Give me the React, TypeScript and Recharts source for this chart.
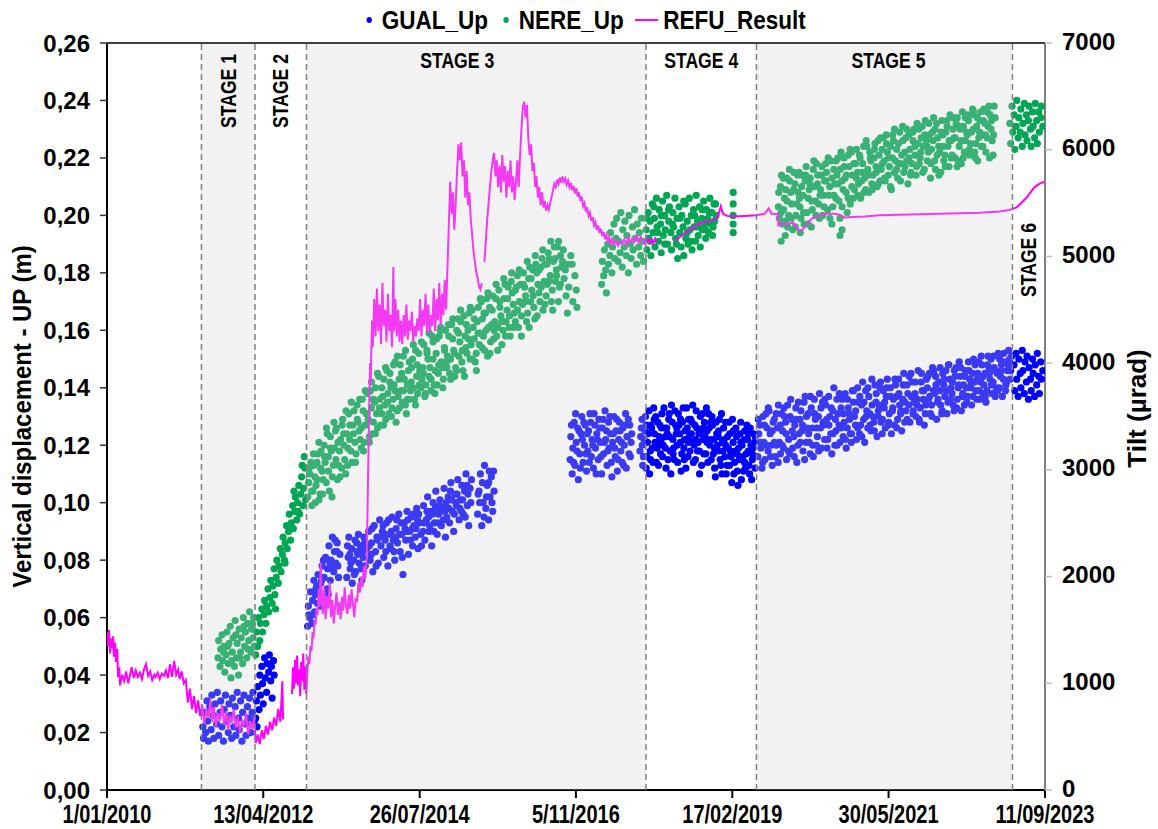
import React from 'react';
import { ComposedChart, Scatter, Line, XAxis, YAxis, ReferenceArea, ReferenceLine, Legend } from 'recharts';

const WIDE = "'Liberation Sans', Arial, sans-serif";

const xTickLabels = ['1/01/2010', '13/04/2012', '26/07/2014', '5/11/2016', '17/02/2019', '30/05/2021', '11/09/2023'];
const leftTicks = [0, 0.02, 0.04, 0.06, 0.08, 0.1, 0.12, 0.14, 0.16, 0.18, 0.2, 0.22, 0.24, 0.26];
const rightTicks = [0, 1000, 2000, 3000, 4000, 5000, 6000, 7000];

const stageNames = ['STAGE 1', 'STAGE 2', 'STAGE 3', 'STAGE 4', 'STAGE 5', 'STAGE 6'];
const stageBounds = [2011.379, 2012.16, 2012.912, 2017.867, 2019.48, 2023.217, 2023.69];
const stageShaded = [true, false, true, false, true, false];
const stageVertical = [true, true, false, false, false, true];

const seriesNames = ['GUAL_Up', 'NERE_Up', 'REFU_Result'];
const seriesColors = ['#0000ff', '#00a651', '#ff00ff'];

// GUAL_Up: [decimal year, vertical displacement (m)]
const gualUp: [number, number][] = [
  [2011.40,0.022],[2011.41,0.018],[2011.43,0.027],[2011.44,0.020],[2011.46,0.031],[2011.47,0.024],[2011.48,0.017],[2011.50,0.029],[2011.52,0.021],[2011.53,0.033],[2011.55,0.026],[2011.56,0.018],[2011.58,0.030],[2011.60,0.023],[2011.61,0.034],[2011.63,0.019],[2011.65,0.027],[2011.66,0.031],[2011.68,0.022],[2011.70,0.017],[2011.71,0.028],[2011.73,0.033],[2011.75,0.024],[2011.77,0.020],[2011.78,0.030],[2011.80,0.026],[2011.82,0.018],[2011.83,0.032],[2011.85,0.022],[2011.87,0.029],[2011.88,0.019],[2011.90,0.034],[2011.92,0.025],[2011.93,0.021],[2011.95,0.031],[2011.97,0.017],[2011.98,0.027],[2012.00,0.033],[2012.02,0.023],[2012.03,0.019],[2012.05,0.029],[2012.07,0.025],[2012.08,0.032],[2012.10,0.020],[2012.12,0.027],[2012.13,0.034],[2012.15,0.024],
  [2012.17,0.025],[2012.18,0.031],[2012.19,0.022],[2012.20,0.036],[2012.22,0.028],[2012.23,0.040],[2012.24,0.033],[2012.26,0.043],[2012.27,0.037],[2012.28,0.030],[2012.30,0.046],[2012.31,0.039],[2012.33,0.034],[2012.34,0.044],[2012.36,0.041],[2012.37,0.047],[2012.39,0.038],[2012.40,0.043],[2012.41,0.032],[2012.43,0.045],[2012.44,0.040],
  [2012.93,0.057],[2012.94,0.064],[2012.96,0.060],[2012.97,0.069],[2012.99,0.058],[2013.00,0.066],[2013.02,0.073],[2013.03,0.062],[2013.05,0.070],[2013.07,0.065],[2013.08,0.075],[2013.10,0.068],[2013.12,0.072],[2013.14,0.078],[2013.15,0.066],[2013.17,0.074],[2013.19,0.081],[2013.21,0.070],[2013.22,0.077],[2013.24,0.085],[2013.26,0.073],[2013.27,0.080],[2013.29,0.088],[2013.31,0.076],[2013.32,0.083],[2013.34,0.079],[2013.36,0.086],[2013.38,0.074],[2013.40,0.082],
  [2013.50,0.074],[2013.52,0.081],[2013.53,0.088],[2013.55,0.077],[2013.57,0.084],[2013.58,0.072],[2013.60,0.080],[2013.62,0.087],[2013.63,0.076],[2013.65,0.083],[2013.67,0.089],[2013.68,0.079],[2013.70,0.085],[2013.72,0.073],[2013.74,0.081],[2013.75,0.088],[2013.77,0.078],[2013.79,0.084],
  [2013.82,0.090],[2013.84,0.080],[2013.86,0.086],[2013.88,0.076],[2013.90,0.092],[2013.92,0.083],[2013.94,0.088],[2013.96,0.079],[2013.98,0.094],[2014.00,0.085],[2014.02,0.090],[2014.04,0.081],[2014.06,0.087],[2014.08,0.093],[2014.10,0.078],[2014.12,0.089],[2014.14,0.084],[2014.16,0.095],[2014.18,0.087],[2014.20,0.080],[2014.22,0.091],[2014.24,0.086],[2014.26,0.096],[2014.28,0.083],[2014.30,0.089],[2014.32,0.075],[2014.34,0.093],[2014.36,0.087],[2014.38,0.097],[2014.40,0.082],[2014.42,0.090],[2014.44,0.095],[2014.46,0.085],[2014.48,0.092],[2014.50,0.088],[2014.52,0.098],[2014.54,0.084],[2014.56,0.093],[2014.58,0.089],
  [2014.62,0.099],[2014.64,0.087],[2014.66,0.094],[2014.68,0.102],[2014.70,0.090],[2014.72,0.097],[2014.74,0.085],[2014.76,0.100],[2014.78,0.093],[2014.80,0.104],[2014.82,0.089],[2014.84,0.096],[2014.86,0.101],[2014.88,0.092],[2014.90,0.098],[2014.92,0.105],[2014.94,0.088],[2014.96,0.095],[2014.98,0.102],[2015.00,0.093],[2015.02,0.107],[2015.04,0.097],[2015.06,0.090],[2015.08,0.103],[2015.10,0.099],[2015.12,0.108],[2015.14,0.094],[2015.16,0.101],[2015.18,0.106],[2015.20,0.096],[2015.22,0.104],[2015.24,0.110],[2015.26,0.099],[2015.28,0.092],[2015.30,0.105],[2015.32,0.108],
  [2015.41,0.096],[2015.43,0.104],[2015.45,0.110],[2015.47,0.092],[2015.49,0.100],[2015.51,0.113],[2015.53,0.098],[2015.55,0.106],[2015.57,0.094],[2015.59,0.102],[2015.61,0.109],[2015.63,0.097],[2015.65,0.104],
  [2013.01,0.061],[2013.06,0.071],[2013.11,0.064],[2013.16,0.080],[2013.23,0.068],[2013.28,0.077],[2013.33,0.087],[2013.37,0.078],[2013.51,0.085],[2013.56,0.079],[2013.61,0.075],[2013.66,0.082],[2013.71,0.077],[2013.76,0.086],[2013.83,0.085],[2013.87,0.091],[2013.93,0.078],[2013.97,0.088],[2014.03,0.092],[2014.07,0.083],[2014.11,0.094],[2014.15,0.090],[2014.19,0.083],[2014.23,0.094],[2014.27,0.089],[2014.31,0.081],[2014.35,0.091],[2014.39,0.094],[2014.43,0.087],[2014.47,0.096],[2014.51,0.091],[2014.55,0.096],[2014.59,0.085],[2014.63,0.093],[2014.67,0.097],[2014.71,0.092],[2014.75,0.096],[2014.79,0.098],[2014.83,0.093],[2014.87,0.097],[2014.91,0.094],[2014.95,0.100],[2014.99,0.098],[2015.03,0.101],[2015.07,0.096],[2015.11,0.103],[2015.15,0.098],[2015.19,0.101],[2015.23,0.095],[2015.27,0.103],[2015.31,0.100],[2015.44,0.100],[2015.48,0.107],[2015.54,0.102],[2015.58,0.111],[2015.62,0.100],
  [2012.947,0.061],[2013.043,0.068],[2013.132,0.073],[2013.254,0.079],[2013.357,0.083],[2013.543,0.082],[2013.644,0.086],[2013.732,0.083],[2013.857,0.082],[2013.947,0.087],[2014.053,0.089],[2014.131,0.085],[2014.213,0.088],[2014.291,0.093],[2014.372,0.090],[2014.453,0.091],[2014.533,0.094],[2014.611,0.090],[2014.694,0.095],[2014.771,0.090],[2014.853,0.099],[2014.932,0.097],[2015.013,0.104],[2015.093,0.100],[2015.173,0.097],[2015.253,0.106],[2015.418,0.103],[2015.502,0.095],[2015.571,0.107],[2015.643,0.111],
  [2016.76,0.115],[2016.77,0.123],[2016.79,0.110],[2016.80,0.119],[2016.82,0.128],[2016.83,0.113],[2016.85,0.121],[2016.87,0.126],[2016.88,0.108],[2016.90,0.117],[2016.92,0.124],[2016.93,0.130],[2016.95,0.114],[2016.97,0.120],[2016.98,0.127],[2017.00,0.111],[2017.02,0.118],[2017.03,0.125],[2017.05,0.131],[2017.07,0.116],[2017.08,0.122],[2017.10,0.112],[2017.12,0.127],[2017.13,0.119],[2017.15,0.124],[2017.17,0.115],[2017.18,0.129],[2017.20,0.121],[2017.22,0.110],[2017.23,0.126],[2017.25,0.117],[2017.27,0.132],[2017.28,0.122],[2017.30,0.113],[2017.32,0.128],[2017.33,0.119],[2017.35,0.124],[2017.37,0.109],[2017.38,0.121],[2017.40,0.130],[2017.42,0.116],[2017.43,0.125],[2017.45,0.111],[2017.47,0.122],[2017.48,0.128],[2017.50,0.118],[2017.52,0.114],[2017.53,0.126],[2017.55,0.120],[2017.57,0.131],[2017.58,0.112],[2017.60,0.123],[2017.62,0.117],[2017.63,0.127],[2017.65,0.121],
  [2016.78,0.127],[2016.81,0.114],[2016.84,0.131],[2016.86,0.118],[2016.89,0.125],[2016.91,0.112],[2016.94,0.122],[2016.96,0.128],[2016.99,0.117],[2017.01,0.124],[2017.04,0.114],[2017.06,0.128],[2017.09,0.120],[2017.11,0.131],[2017.14,0.110],[2017.16,0.122],[2017.19,0.126],[2017.21,0.116],[2017.24,0.129],[2017.26,0.121],[2017.29,0.125],[2017.31,0.118],[2017.34,0.130],[2017.36,0.114],[2017.39,0.124],[2017.41,0.119],[2017.44,0.129],[2017.46,0.115],[2017.49,0.125],[2017.51,0.121],[2017.54,0.113],[2017.56,0.127],[2017.59,0.123],[2017.61,0.129],[2017.64,0.116],[2017.66,0.124],
  [2017.78,0.118],[2017.80,0.126],[2017.82,0.113],[2017.84,0.122],[2017.86,0.130],[2017.88,0.116],[2017.90,0.124],[2017.92,0.110],[2017.94,0.127],[2017.96,0.119],[2017.98,0.133],[2018.00,0.121],[2018.02,0.114],[2018.04,0.128],[2018.06,0.123],[2018.08,0.117],[2018.10,0.131],[2018.12,0.120],[2018.14,0.126],[2018.16,0.112],[2018.18,0.124],[2018.20,0.129],[2018.22,0.118],[2018.24,0.134],[2018.26,0.122],[2018.28,0.115],[2018.30,0.127],[2018.32,0.120],[2018.34,0.131],[2018.36,0.124],[2018.38,0.111],[2018.40,0.128],[2018.42,0.119],[2018.44,0.125],[2018.46,0.133],[2018.48,0.116],[2018.50,0.123],[2018.52,0.129],[2018.54,0.121],[2018.56,0.114],[2018.58,0.127],[2018.60,0.132],[2018.62,0.118],[2018.64,0.124],[2018.66,0.130],[2018.68,0.113],[2018.70,0.122],[2018.72,0.128],[2018.74,0.117],[2018.76,0.125],[2018.78,0.131],[2018.80,0.120],[2018.82,0.115],[2018.84,0.127],[2018.86,0.122],[2018.88,0.109],[2018.90,0.124],[2018.92,0.118],[2018.94,0.129],[2018.96,0.113],[2018.98,0.121],[2019.00,0.126],[2019.02,0.116],[2019.04,0.110],[2019.06,0.123],[2019.08,0.128],[2019.10,0.118],[2019.12,0.107],[2019.14,0.121],[2019.16,0.114],[2019.18,0.126],[2019.20,0.111],[2019.22,0.119],[2019.24,0.124],[2019.26,0.108],[2019.28,0.116],[2019.30,0.122],[2019.32,0.112],[2019.34,0.127],[2019.36,0.118],[2019.38,0.110],[2019.40,0.120],[2019.42,0.115],[2019.44,0.124],[2019.46,0.112],
  [2017.79,0.123],[2017.81,0.129],[2017.83,0.116],[2017.85,0.125],[2017.87,0.112],[2017.89,0.121],[2017.91,0.132],[2017.93,0.118],[2017.95,0.126],[2017.97,0.114],[2017.99,0.124],[2018.01,0.130],[2018.03,0.119],[2018.05,0.113],[2018.07,0.127],[2018.09,0.122],[2018.11,0.116],[2018.13,0.133],[2018.15,0.119],[2018.17,0.126],[2018.19,0.115],[2018.21,0.123],[2018.23,0.110],[2018.25,0.128],[2018.27,0.119],[2018.29,0.132],[2018.31,0.124],[2018.33,0.114],[2018.35,0.127],[2018.37,0.121],[2018.39,0.117],[2018.41,0.133],[2018.43,0.122],[2018.45,0.112],[2018.47,0.126],[2018.49,0.129],[2018.51,0.118],[2018.53,0.124],[2018.55,0.134],[2018.57,0.120],[2018.59,0.115],[2018.61,0.126],[2018.63,0.121],[2018.65,0.110],[2018.67,0.125],[2018.69,0.131],[2018.71,0.117],[2018.73,0.123],[2018.75,0.133],[2018.77,0.114],[2018.79,0.126],[2018.81,0.122],[2018.83,0.130],[2018.85,0.117],[2018.87,0.112],[2018.89,0.128],[2018.91,0.120],[2018.93,0.125],[2018.95,0.115],[2018.97,0.131],[2018.99,0.118],[2019.01,0.122],[2019.03,0.128],[2019.05,0.113],[2019.07,0.119],[2019.09,0.124],[2019.11,0.116],[2019.13,0.129],[2019.15,0.110],[2019.17,0.118],[2019.19,0.123],[2019.21,0.106],[2019.23,0.115],[2019.25,0.128],[2019.27,0.120],[2019.29,0.111],[2019.31,0.125],[2019.33,0.117],[2019.35,0.122],[2019.37,0.113],[2019.39,0.126],[2019.41,0.108],[2019.43,0.119],[2019.45,0.121],[2019.47,0.116],
  [2017.813,0.120],[2017.871,0.127],[2017.934,0.115],[2017.988,0.129],[2018.047,0.120],[2018.093,0.126],[2018.152,0.123],[2018.207,0.131],[2018.263,0.117],[2018.318,0.126],[2018.372,0.129],[2018.427,0.115],[2018.483,0.121],[2018.538,0.128],[2018.594,0.122],[2018.648,0.118],[2018.703,0.126],[2018.758,0.121],[2018.812,0.128],[2018.867,0.119],[2018.921,0.123],[2018.977,0.110],[2019.033,0.120],[2019.088,0.113],[2019.143,0.125],[2019.198,0.117],[2019.252,0.121],[2019.307,0.114],[2019.362,0.124],[2019.418,0.117],[2019.463,0.123],
  [2019.50,0.116],[2019.53,0.127],[2019.56,0.112],[2019.59,0.121],[2019.62,0.131],[2019.65,0.118],[2019.68,0.124],[2019.71,0.113],[2019.74,0.129],[2019.77,0.120],[2019.80,0.134],[2019.83,0.117],[2019.86,0.125],[2019.89,0.130],[2019.92,0.115],[2019.95,0.122],[2019.98,0.136],[2020.01,0.119],[2020.04,0.127],[2020.07,0.114],[2020.10,0.124],[2020.13,0.132],[2020.16,0.118],[2020.19,0.137],[2020.22,0.126],[2020.25,0.121],[2020.28,0.133],[2020.31,0.116],[2020.34,0.129],[2020.37,0.123],[2020.40,0.138],[2020.43,0.119],[2020.46,0.127],[2020.49,0.134],[2020.52,0.122],[2020.55,0.130],[2020.58,0.117],[2020.61,0.140],[2020.64,0.125],[2020.67,0.131],[2020.70,0.121],[2020.73,0.136],[2020.76,0.128],[2020.79,0.119],[2020.82,0.133],[2020.85,0.124],[2020.88,0.139],[2020.91,0.130],[2020.94,0.122],[2020.97,0.135],[2021.00,0.127],[2021.03,0.142],[2021.06,0.121],[2021.09,0.132],[2021.12,0.137],[2021.15,0.125],[2021.18,0.130],[2021.21,0.141],[2021.24,0.123],[2021.27,0.134],[2021.30,0.128],[2021.33,0.139],[2021.36,0.126],[2021.39,0.143],[2021.42,0.131],[2021.45,0.124],[2021.48,0.136],[2021.51,0.141],[2021.54,0.129],[2021.57,0.134],[2021.60,0.125],[2021.63,0.145],[2021.66,0.132],[2021.69,0.138],[2021.72,0.128],[2021.75,0.142],[2021.78,0.135],[2021.81,0.130],[2021.84,0.146],[2021.87,0.133],[2021.90,0.139],[2021.93,0.127],[2021.96,0.143],[2021.99,0.136],[2022.02,0.131],[2022.05,0.147],[2022.08,0.138],[2022.11,0.129],[2022.14,0.142],[2022.17,0.134],[2022.20,0.145],[2022.23,0.137],[2022.26,0.131],[2022.29,0.148],[2022.32,0.140],[2022.35,0.134],[2022.38,0.144],[2022.41,0.136],[2022.44,0.149],[2022.47,0.132],[2022.50,0.141],[2022.53,0.146],[2022.56,0.137],[2022.59,0.143],[2022.62,0.134],[2022.65,0.150],[2022.68,0.139],[2022.71,0.145],[2022.74,0.136],[2022.77,0.148],[2022.80,0.141],[2022.83,0.135],[2022.86,0.151],[2022.89,0.143],[2022.92,0.138],[2022.95,0.147],[2022.98,0.140],[2023.01,0.152],[2023.04,0.144],[2023.07,0.137],[2023.10,0.149],[2023.13,0.142],[2023.16,0.153],[2023.19,0.146],
  [2019.515,0.124],[2019.545,0.119],[2019.575,0.130],[2019.605,0.115],[2019.635,0.126],[2019.665,0.132],[2019.695,0.120],[2019.725,0.128],[2019.755,0.116],[2019.785,0.126],[2019.815,0.121],[2019.845,0.131],[2019.875,0.119],[2019.905,0.128],[2019.935,0.134],[2019.965,0.117],[2019.995,0.129],[2020.025,0.123],[2020.055,0.133],[2020.085,0.120],[2020.115,0.129],[2020.145,0.125],[2020.175,0.135],[2020.205,0.121],[2020.235,0.131],[2020.265,0.117],[2020.295,0.126],[2020.325,0.136],[2020.355,0.120],[2020.385,0.130],[2020.415,0.126],[2020.445,0.135],[2020.475,0.122],[2020.505,0.129],[2020.535,0.137],[2020.565,0.124],[2020.595,0.132],[2020.625,0.120],[2020.655,0.136],[2020.685,0.127],[2020.715,0.133],[2020.745,0.123],[2020.775,0.138],[2020.805,0.126],[2020.835,0.131],[2020.865,0.121],[2020.895,0.135],[2020.925,0.127],[2020.955,0.140],[2020.985,0.124],[2021.015,0.134],[2021.045,0.129],[2021.075,0.139],[2021.105,0.126],[2021.135,0.131],[2021.165,0.143],[2021.195,0.128],[2021.225,0.135],[2021.255,0.130],[2021.285,0.140],[2021.315,0.124],[2021.345,0.133],[2021.375,0.137],[2021.405,0.127],[2021.435,0.140],[2021.465,0.132],[2021.495,0.127],[2021.525,0.137],[2021.555,0.143],[2021.585,0.131],[2021.615,0.136],[2021.645,0.128],[2021.675,0.141],[2021.705,0.134],[2021.735,0.145],[2021.765,0.131],[2021.795,0.138],[2021.825,0.134],[2021.855,0.129],[2021.885,0.142],[2021.915,0.136],[2021.945,0.131],[2021.975,0.140],[2022.005,0.145],[2022.035,0.134],[2022.065,0.139],[2022.095,0.144],[2022.125,0.135],[2022.155,0.139],[2022.185,0.131],[2022.215,0.141],[2022.245,0.146],[2022.275,0.135],[2022.305,0.143],[2022.335,0.138],[2022.365,0.132],[2022.395,0.147],[2022.425,0.140],[2022.455,0.144],[2022.485,0.137],[2022.515,0.134],[2022.545,0.140],[2022.575,0.149],[2022.605,0.140],[2022.635,0.145],[2022.665,0.142],[2022.695,0.136],[2022.725,0.149],[2022.755,0.142],[2022.785,0.138],[2022.815,0.145],[2022.845,0.139],[2022.875,0.147],[2022.905,0.150],[2022.935,0.142],[2022.965,0.137],[2022.995,0.145],[2023.025,0.140],[2023.055,0.148],[2023.085,0.143],[2023.115,0.139],[2023.145,0.146],[2023.175,0.150],
  [2019.508,0.129],[2019.538,0.121],[2019.571,0.114],[2019.597,0.127],[2019.629,0.120],[2019.653,0.133],[2019.687,0.116],[2019.711,0.125],[2019.742,0.121],[2019.768,0.131],[2019.797,0.114],[2019.829,0.127],[2019.858,0.120],[2019.881,0.133],[2019.913,0.124],[2019.947,0.118],[2019.972,0.130],[2020.003,0.125],[2020.031,0.116],[2020.064,0.129],[2020.092,0.135],[2020.122,0.121],[2020.151,0.127],[2020.183,0.115],[2020.211,0.130],[2020.242,0.124],[2020.268,0.137],[2020.301,0.120],[2020.329,0.131],[2020.361,0.126],[2020.388,0.118],[2020.421,0.133],[2020.452,0.128],[2020.478,0.136],[2020.511,0.119],[2020.538,0.127],[2020.571,0.133],[2020.598,0.124],[2020.632,0.129],[2020.658,0.120],[2020.689,0.138],[2020.718,0.126],[2020.749,0.131],[2020.778,0.122],[2020.809,0.136],[2020.839,0.129],[2020.868,0.124],[2020.898,0.139],[2020.929,0.132],[2020.958,0.126],[2020.989,0.137],[2021.018,0.123],[2021.049,0.135],[2021.079,0.130],[2021.108,0.140],[2021.139,0.127],[2021.168,0.134],[2021.201,0.125],[2021.229,0.138],[2021.259,0.132],[2021.291,0.142],[2021.319,0.129],[2021.351,0.135],[2021.379,0.140],[2021.412,0.128],[2021.438,0.137],[2021.469,0.133],[2021.501,0.143],[2021.529,0.126],[2021.561,0.138],[2021.589,0.132],[2021.621,0.141],[2021.648,0.135],[2021.681,0.129],[2021.709,0.144],[2021.741,0.137],[2021.769,0.132],[2021.801,0.142],[2021.829,0.136],[2021.861,0.128],[2021.889,0.145],[2021.921,0.139],[2021.949,0.134],[2021.981,0.144],[2022.009,0.137],[2022.041,0.130],[2022.071,0.146],[2022.101,0.141],[2022.131,0.136],[2022.161,0.147],[2022.191,0.132],[2022.219,0.143],[2022.251,0.139],[2022.281,0.148],[2022.311,0.136],[2022.341,0.142],[2022.369,0.146],[2022.401,0.133],[2022.431,0.141],[2022.461,0.147],[2022.491,0.138],[2022.521,0.144],[2022.551,0.135],[2022.581,0.146],[2022.611,0.141],[2022.641,0.137],[2022.671,0.148],[2022.701,0.143],[2022.731,0.139],[2022.761,0.151],[2022.791,0.144],[2022.821,0.137],[2022.851,0.148],[2022.881,0.145],[2022.911,0.141],[2022.941,0.151],[2022.971,0.146],[2023.001,0.139],[2023.031,0.150],[2023.061,0.146],[2023.091,0.152],[2023.121,0.141],[2023.151,0.148],[2023.181,0.143],[2023.205,0.151],
  [2023.24,0.148],[2023.25,0.139],[2023.27,0.152],[2023.28,0.143],[2023.30,0.137],[2023.31,0.150],[2023.33,0.145],[2023.34,0.140],[2023.36,0.153],[2023.37,0.146],[2023.39,0.138],[2023.40,0.149],[2023.42,0.142],[2023.43,0.151],[2023.45,0.136],[2023.46,0.147],[2023.48,0.143],[2023.49,0.139],[2023.51,0.150],[2023.52,0.145],[2023.54,0.137],[2023.55,0.148],[2023.57,0.141],[2023.58,0.152],[2023.60,0.144],[2023.61,0.138],[2023.63,0.149],[2023.64,0.143],[2023.66,0.146],
];

// NERE_Up: [decimal year, vertical displacement (m)]
const nereUp: [number, number][] = [
  [2011.62,0.046],[2011.63,0.052],[2011.65,0.043],[2011.66,0.049],[2011.68,0.054],[2011.69,0.045],[2011.71,0.050],[2011.72,0.041],[2011.74,0.047],[2011.75,0.055],[2011.77,0.044],[2011.78,0.051],[2011.80,0.057],[2011.81,0.039],[2011.83,0.048],[2011.84,0.053],[2011.86,0.043],[2011.87,0.059],[2011.89,0.046],[2011.90,0.051],[2011.92,0.040],[2011.93,0.056],[2011.95,0.048],[2011.96,0.053],[2011.98,0.044],[2011.99,0.060],[2012.01,0.050],[2012.02,0.055],[2012.04,0.046],[2012.05,0.058],[2012.07,0.052],[2012.08,0.062],[2012.10,0.048],[2012.11,0.056],[2012.13,0.053],[2012.14,0.060],[2012.15,0.050],
  [2011.70,0.048],[2011.76,0.050],[2011.82,0.045],[2011.88,0.054],[2011.94,0.046],[2012.00,0.057],[2012.06,0.049],[2012.12,0.058],
  [2012.17,0.047],[2012.18,0.055],[2012.20,0.050],[2012.21,0.060],[2012.23,0.052],[2012.24,0.058],[2012.26,0.063],[2012.27,0.055],[2012.29,0.061],[2012.30,0.066],[2012.32,0.058],[2012.33,0.064],[2012.35,0.070],[2012.36,0.062],[2012.38,0.067],[2012.39,0.073],[2012.41,0.065],[2012.42,0.071],[2012.44,0.077],[2012.45,0.068],[2012.47,0.074],[2012.48,0.080],[2012.50,0.072],[2012.51,0.078],[2012.53,0.084],[2012.54,0.076],[2012.56,0.082],[2012.57,0.088],[2012.59,0.080],[2012.60,0.086],[2012.62,0.092],[2012.63,0.084],[2012.65,0.090],[2012.66,0.096],[2012.68,0.087],[2012.69,0.093],[2012.71,0.099],[2012.72,0.091],[2012.74,0.097],[2012.75,0.102],[2012.77,0.094],[2012.78,0.100],[2012.80,0.106],[2012.81,0.096],[2012.83,0.103],[2012.84,0.109],[2012.86,0.099],[2012.87,0.105],[2012.89,0.112],[2012.90,0.101],
  [2012.73,0.104],[2012.79,0.097],[2012.85,0.113],[2012.88,0.116],[2012.60,0.079],[2012.46,0.063],
  [2012.93,0.102],[2012.96,0.110],[2012.99,0.099],[2013.02,0.113],[2013.05,0.106],[2013.08,0.117],[2013.11,0.103],[2013.14,0.111],[2013.17,0.120],[2013.20,0.107],[2013.23,0.116],[2013.26,0.123],[2013.29,0.109],[2013.32,0.119],[2013.35,0.126],[2013.38,0.113],[2013.41,0.122],[2013.44,0.129],[2013.47,0.115],[2013.50,0.124],[2013.53,0.131],[2013.56,0.118],[2013.59,0.127],[2013.62,0.121],[2013.65,0.134],[2013.68,0.125],[2013.71,0.119],[2013.74,0.132],[2013.77,0.127],[2013.80,0.138],[2013.83,0.123],[2013.86,0.133],[2013.89,0.128],[2013.92,0.140],[2013.95,0.126],[2013.98,0.136],[2014.01,0.131],[2014.04,0.143],[2014.07,0.129],[2014.10,0.138],[2014.13,0.145],[2014.16,0.133],[2014.19,0.141],[2014.22,0.128],[2014.25,0.137],[2014.28,0.148],[2014.31,0.135],[2014.34,0.143],[2014.37,0.131],[2014.40,0.146],[2014.43,0.139],[2014.46,0.150],[2014.49,0.136],[2014.52,0.144],[2014.55,0.152],[2014.58,0.140],[2014.61,0.147],[2014.64,0.137],[2014.67,0.153],[2014.70,0.144],[2014.73,0.139],[2014.76,0.156],[2014.79,0.146],[2014.82,0.141],[2014.85,0.158],[2014.88,0.149],[2014.91,0.143],[2014.94,0.160],[2014.97,0.151],[2015.00,0.145],[2015.03,0.162],[2015.06,0.153],[2015.09,0.147],[2015.12,0.164],[2015.15,0.156],[2015.18,0.149],[2015.21,0.165],[2015.24,0.154],[2015.27,0.160],[2015.30,0.150],[2015.33,0.167],[2015.36,0.157],[2015.39,0.152],[2015.42,0.168],[2015.45,0.159],[2015.48,0.164],[2015.51,0.153],[2015.54,0.171],[2015.57,0.161],[2015.60,0.156],[2015.63,0.172],[2015.66,0.163],[2015.69,0.158],[2015.72,0.174],[2015.75,0.165],[2015.78,0.160],[2015.81,0.176],[2015.84,0.167],[2015.87,0.161],[2015.90,0.177],[2015.93,0.169],[2015.96,0.163],[2015.99,0.179],[2016.02,0.170],[2016.05,0.165],[2016.08,0.180],[2016.11,0.172],[2016.14,0.166],[2016.17,0.182],[2016.20,0.174],[2016.23,0.168],[2016.26,0.183],[2016.29,0.176],[2016.32,0.170],[2016.35,0.185],[2016.38,0.177],[2016.41,0.172],[2016.44,0.187],[2016.47,0.179],[2016.50,0.174],[2016.53,0.189],[2016.56,0.181],[2016.59,0.170],[2016.62,0.186],
  [2012.945,0.107],[2012.975,0.114],[2013.005,0.104],[2013.035,0.109],[2013.065,0.114],[2013.095,0.101],[2013.125,0.118],[2013.155,0.108],[2013.185,0.114],[2013.215,0.124],[2013.245,0.104],[2013.275,0.118],[2013.305,0.113],[2013.335,0.125],[2013.365,0.108],[2013.395,0.118],[2013.425,0.112],[2013.455,0.124],[2013.485,0.110],[2013.515,0.119],[2013.545,0.127],[2013.575,0.114],[2013.605,0.132],[2013.635,0.117],[2013.665,0.128],[2013.695,0.122],[2013.725,0.136],[2013.755,0.121],[2013.785,0.131],[2013.815,0.129],[2013.845,0.139],[2013.875,0.124],[2013.905,0.135],[2013.935,0.131],[2013.965,0.144],[2013.995,0.127],[2014.025,0.137],[2014.055,0.134],[2014.085,0.146],[2014.115,0.131],[2014.145,0.140],[2014.175,0.136],[2014.205,0.149],[2014.235,0.132],[2014.265,0.143],[2014.295,0.139],[2014.325,0.151],[2014.355,0.134],[2014.385,0.141],[2014.415,0.136],[2014.445,0.147],[2014.475,0.140],[2014.505,0.153],[2014.535,0.138],[2014.565,0.146],[2014.595,0.143],[2014.625,0.155],[2014.655,0.141],[2014.685,0.150],[2014.715,0.147],[2014.745,0.158],[2014.775,0.141],[2014.805,0.152],[2014.835,0.145],[2014.865,0.160],[2014.895,0.147],[2014.925,0.154],[2014.955,0.149],[2014.985,0.162],[2015.015,0.150],[2015.045,0.157],[2015.075,0.144],[2015.105,0.160],[2015.135,0.151],[2015.165,0.163],[2015.195,0.146],[2015.225,0.158],[2015.255,0.152],[2015.285,0.166],[2015.315,0.155],[2015.345,0.161],[2015.375,0.149],[2015.405,0.163],[2015.435,0.155],[2015.465,0.170],[2015.495,0.158],[2015.525,0.166],[2015.555,0.151],[2015.585,0.168],[2015.615,0.162],[2015.645,0.157],[2015.675,0.171],[2015.705,0.161],[2015.735,0.168],[2015.765,0.155],[2015.795,0.171],[2015.825,0.163],[2015.855,0.175],[2015.885,0.158],[2015.915,0.173],[2015.945,0.166],[2015.975,0.175],[2016.005,0.161],[2016.035,0.176],[2016.065,0.169],[2016.095,0.175],[2016.125,0.163],[2016.155,0.178],[2016.185,0.170],[2016.215,0.181],[2016.245,0.164],[2016.275,0.180],[2016.305,0.173],[2016.335,0.182],[2016.365,0.167],[2016.395,0.183],[2016.425,0.176],[2016.455,0.185],[2016.485,0.170],[2016.515,0.184],[2016.545,0.177],[2016.575,0.189],[2016.605,0.175],[2016.635,0.182],
  [2012.952,0.112],[2012.987,0.104],[2013.013,0.117],[2013.041,0.100],[2013.068,0.108],[2013.093,0.121],[2013.118,0.112],[2013.147,0.103],[2013.176,0.116],[2013.203,0.126],[2013.231,0.111],[2013.262,0.119],[2013.284,0.102],[2013.313,0.128],[2013.342,0.115],[2013.371,0.121],[2013.402,0.109],[2013.433,0.127],[2013.458,0.120],[2013.489,0.132],[2013.512,0.113],[2013.541,0.122],[2013.566,0.135],[2013.598,0.124],[2013.627,0.114],[2013.654,0.129],[2013.688,0.136],[2013.712,0.126],[2013.744,0.118],[2013.771,0.139],[2013.798,0.131],[2013.829,0.121],[2013.861,0.142],[2013.888,0.136],[2013.917,0.124],[2013.949,0.145],[2013.978,0.133],[2014.011,0.140],[2014.038,0.127],[2014.066,0.147],[2014.094,0.135],[2014.127,0.142],[2014.151,0.130],[2014.183,0.148],[2014.209,0.139],[2014.238,0.151],[2014.267,0.133],[2014.301,0.145],[2014.327,0.139],[2014.358,0.153],[2014.386,0.136],[2014.413,0.149],[2014.442,0.142],[2014.471,0.155],[2014.503,0.134],[2014.528,0.148],[2014.561,0.141],[2014.589,0.156],[2014.617,0.145],[2014.648,0.138],[2014.672,0.152],[2014.703,0.159],[2014.729,0.143],[2014.758,0.150],[2014.787,0.138],[2014.812,0.157],[2014.843,0.148],[2014.871,0.161],[2014.902,0.140],[2014.928,0.153],[2014.961,0.147],[2014.989,0.158],[2015.018,0.143],[2015.047,0.164],[2015.072,0.152],[2015.101,0.146],[2015.133,0.159],[2015.162,0.167],[2015.188,0.153],[2015.219,0.144],[2015.246,0.162],[2015.278,0.157],[2015.303,0.168],[2015.334,0.150],[2015.361,0.164],[2015.392,0.146],[2015.418,0.159],[2015.449,0.171],[2015.474,0.154],[2015.503,0.166],[2015.532,0.160],[2015.561,0.173],[2015.589,0.152],[2015.622,0.167],[2015.648,0.160],[2015.679,0.176],[2015.703,0.153],[2015.733,0.170],[2015.762,0.163],[2015.791,0.178],[2015.817,0.158],[2015.848,0.171],[2015.876,0.165],[2015.907,0.180],[2015.933,0.161],[2015.962,0.174],[2015.991,0.167],[2016.018,0.181],[2016.049,0.158],[2016.077,0.176],[2016.103,0.170],[2016.134,0.184],[2016.162,0.161],[2016.191,0.178],[2016.219,0.172],[2016.251,0.186],[2016.278,0.165],[2016.307,0.181],[2016.338,0.175],[2016.362,0.188],[2016.391,0.169],[2016.422,0.183],[2016.449,0.177],[2016.478,0.191],[2016.506,0.167],[2016.538,0.185],[2016.563,0.179],[2016.592,0.191],[2016.618,0.176],[2016.648,0.184],[2016.672,0.178],[2016.701,0.172],[2016.728,0.183],
  [2016.66,0.188],[2016.69,0.181],[2016.74,0.175],[2016.77,0.186],[2016.80,0.170],[2016.83,0.179],[2016.86,0.168],[2016.72,0.166],[2016.79,0.183],[2016.85,0.174],
  [2017.22,0.176],[2017.23,0.184],[2017.25,0.179],[2017.26,0.188],[2017.28,0.181],[2017.29,0.173],[2017.31,0.190],[2017.32,0.183],[2017.34,0.186],[2017.35,0.194],[2017.37,0.180],[2017.38,0.189],[2017.40,0.197],[2017.41,0.185],[2017.43,0.192],[2017.44,0.199],[2017.46,0.184],[2017.47,0.191],[2017.49,0.187],[2017.50,0.201],[2017.52,0.182],[2017.53,0.195],[2017.55,0.189],[2017.56,0.198],[2017.58,0.186],[2017.59,0.193],[2017.61,0.180],[2017.62,0.200],[2017.64,0.190],[2017.65,0.185],[2017.67,0.196],[2017.68,0.188],[2017.70,0.202],[2017.71,0.192],[2017.73,0.183],[2017.74,0.197],[2017.76,0.189],[2017.77,0.194],[2017.79,0.186],[2017.80,0.199],[2017.82,0.191],[2017.83,0.184],
  [2017.87,0.195],[2017.88,0.188],[2017.90,0.201],[2017.91,0.192],[2017.93,0.198],[2017.94,0.186],[2017.96,0.204],[2017.97,0.194],[2017.99,0.199],[2018.00,0.189],[2018.02,0.206],[2018.03,0.196],[2018.05,0.191],[2018.06,0.202],[2018.08,0.197],[2018.09,0.187],[2018.11,0.205],[2018.12,0.193],[2018.14,0.200],[2018.15,0.195],[2018.17,0.207],[2018.18,0.190],[2018.20,0.198],[2018.21,0.203],[2018.23,0.194],[2018.24,0.188],[2018.26,0.201],[2018.27,0.196],[2018.29,0.206],[2018.30,0.192],[2018.32,0.199],[2018.33,0.185],[2018.35,0.203],[2018.36,0.194],[2018.38,0.189],[2018.39,0.200],[2018.41,0.196],[2018.42,0.186],[2018.44,0.204],[2018.45,0.192],[2018.47,0.198],[2018.48,0.190],[2018.50,0.206],[2018.51,0.195],[2018.53,0.200],[2018.54,0.188],[2018.56,0.202],[2018.57,0.196],[2018.59,0.191],[2018.60,0.207],[2018.62,0.198],[2018.63,0.193],[2018.65,0.203],[2018.66,0.189],[2018.68,0.199],[2018.69,0.195],[2018.71,0.205],[2018.72,0.197],[2018.74,0.192],[2018.75,0.202],[2018.77,0.199],[2018.78,0.194],[2018.80,0.206],[2018.81,0.197],[2018.83,0.201],[2018.84,0.193],[2018.86,0.204],[2018.87,0.198],[2018.89,0.200],
  [2017.877,0.199],[2017.925,0.191],[2017.983,0.203],[2018.037,0.194],[2018.091,0.200],[2018.142,0.190],[2018.197,0.202],[2018.254,0.197],[2018.311,0.190],[2018.366,0.199],[2018.418,0.205],[2018.471,0.194],[2018.523,0.191],[2018.577,0.200],[2018.631,0.196],[2018.688,0.202],[2018.737,0.195],[2018.793,0.201],[2018.847,0.196],[2018.883,0.204],
  [2019.14,0.208],[2019.14,0.204],[2019.14,0.200],[2019.14,0.197],[2019.14,0.194],
  [2019.80,0.203],[2019.83,0.210],[2019.86,0.197],[2019.89,0.206],[2019.92,0.213],[2019.95,0.200],[2019.98,0.208],[2020.01,0.195],[2020.04,0.211],[2020.07,0.204],[2020.10,0.215],[2020.13,0.199],[2020.16,0.207],[2020.19,0.212],[2020.22,0.201],[2020.25,0.209],[2020.28,0.196],[2020.31,0.216],[2020.34,0.205],[2020.37,0.211],[2020.40,0.199],[2020.43,0.214],[2020.46,0.207],[2020.49,0.218],[2020.52,0.202],[2020.55,0.210],[2020.58,0.197],[2020.61,0.216],[2020.64,0.206],[2020.67,0.220],[2020.70,0.199],[2020.73,0.212],[2020.76,0.217],[2020.79,0.208],[2020.82,0.221],[2020.85,0.204],[2020.88,0.214],[2020.91,0.209],[2020.94,0.223],[2020.97,0.211],[2021.00,0.206],[2021.03,0.218],[2021.06,0.213],[2021.09,0.224],[2021.12,0.208],[2021.15,0.219],[2021.18,0.214],[2021.21,0.225],[2021.24,0.210],[2021.27,0.221],[2021.30,0.216],[2021.33,0.227],[2021.36,0.212],[2021.39,0.222],[2021.42,0.217],[2021.45,0.209],[2021.48,0.226],[2021.51,0.219],[2021.54,0.213],[2021.57,0.229],[2021.60,0.221],[2021.63,0.215],[2021.66,0.227],[2021.69,0.211],[2021.72,0.223],[2021.75,0.218],[2021.78,0.230],[2021.81,0.214],[2021.84,0.225],[2021.87,0.220],[2021.90,0.231],[2021.93,0.216],[2021.96,0.226],[2021.99,0.222],[2022.02,0.213],[2022.05,0.229],[2022.08,0.219],[2022.11,0.232],[2022.14,0.224],[2022.17,0.215],[2022.20,0.228],[2022.23,0.221],[2022.26,0.233],[2022.29,0.217],[2022.32,0.226],[2022.35,0.230],[2022.38,0.220],[2022.41,0.234],[2022.44,0.224],[2022.47,0.218],[2022.50,0.231],[2022.53,0.226],[2022.56,0.235],[2022.59,0.221],[2022.62,0.229],[2022.65,0.236],[2022.68,0.225],[2022.71,0.219],[2022.74,0.233],[2022.77,0.228],[2022.80,0.237],[2022.83,0.222],[2022.86,0.231],[2022.89,0.235],[2022.92,0.226],[2022.95,0.238],
  [2019.815,0.199],[2019.845,0.214],[2019.875,0.202],[2019.905,0.209],[2019.935,0.196],[2019.965,0.212],[2019.995,0.204],[2020.025,0.215],[2020.055,0.200],[2020.085,0.208],[2020.115,0.203],[2020.145,0.214],[2020.175,0.197],[2020.205,0.217],[2020.235,0.206],[2020.265,0.213],[2020.295,0.202],[2020.325,0.210],[2020.355,0.218],[2020.385,0.204],[2020.415,0.209],[2020.445,0.200],[2020.475,0.212],[2020.505,0.215],[2020.535,0.207],[2020.565,0.219],[2020.595,0.203],[2020.625,0.211],[2020.655,0.214],[2020.685,0.205],[2020.715,0.222],[2020.745,0.209],[2020.775,0.213],[2020.805,0.201],[2020.835,0.217],[2020.865,0.222],[2020.895,0.206],[2020.925,0.218],[2020.955,0.215],[2020.985,0.221],[2021.015,0.212],[2021.045,0.224],[2021.075,0.209],[2021.105,0.216],[2021.135,0.222],[2021.165,0.211],[2021.195,0.220],[2021.225,0.217],[2021.255,0.226],[2021.285,0.212],[2021.315,0.223],[2021.345,0.219],[2021.375,0.228],[2021.405,0.214],[2021.435,0.224],[2021.465,0.220],[2021.495,0.230],[2021.525,0.216],[2021.555,0.225],[2021.585,0.218],[2021.615,0.231],[2021.645,0.222],[2021.675,0.219],[2021.705,0.228],[2021.735,0.215],[2021.765,0.226],[2021.795,0.221],[2021.825,0.232],[2021.855,0.218],[2021.885,0.227],[2021.915,0.224],[2021.945,0.233],[2021.975,0.219],[2022.005,0.228],[2022.035,0.223],[2022.065,0.234],[2022.095,0.216],[2022.125,0.227],[2022.155,0.222],[2022.185,0.233],[2022.215,0.219],[2022.245,0.229],[2022.275,0.224],[2022.305,0.235],[2022.335,0.221],[2022.365,0.227],[2022.395,0.232],[2022.425,0.219],[2022.455,0.230],[2022.485,0.236],[2022.515,0.222],[2022.545,0.229],[2022.575,0.233],[2022.605,0.225],[2022.635,0.237],[2022.665,0.222],[2022.695,0.231],[2022.725,0.227],[2022.755,0.236],[2022.785,0.224],[2022.815,0.232],[2022.845,0.227],[2022.875,0.238],[2022.905,0.230],[2022.935,0.221],[2022.965,0.234],
  [2019.806,0.208],[2019.839,0.201],[2019.871,0.213],[2019.903,0.198],[2019.928,0.205],[2019.962,0.216],[2019.991,0.199],[2020.022,0.209],[2020.047,0.196],[2020.081,0.214],[2020.108,0.206],[2020.139,0.210],[2020.167,0.201],[2020.198,0.214],[2020.229,0.197],[2020.258,0.211],[2020.287,0.205],[2020.318,0.219],[2020.349,0.200],[2020.376,0.214],[2020.408,0.207],[2020.437,0.217],[2020.466,0.203],[2020.493,0.212],[2020.527,0.220],[2020.552,0.199],[2020.583,0.213],[2020.611,0.207],[2020.642,0.219],[2020.671,0.211],[2020.702,0.216],[2020.731,0.203],[2020.759,0.220],[2020.791,0.214],[2020.818,0.206],[2020.847,0.223],[2020.873,0.210],[2020.904,0.218],[2020.937,0.213],[2020.962,0.207],[2020.993,0.220],[2021.022,0.215],[2021.051,0.208],[2021.082,0.226],[2021.111,0.214],[2021.143,0.220],[2021.171,0.209],[2021.202,0.223],[2021.228,0.215],[2021.261,0.211],[2021.289,0.227],[2021.318,0.218],[2021.349,0.213],[2021.378,0.225],[2021.411,0.220],[2021.437,0.210],[2021.468,0.228],[2021.496,0.215],[2021.527,0.223],[2021.558,0.218],[2021.583,0.212],[2021.617,0.226],[2021.648,0.217],[2021.673,0.230],[2021.708,0.220],[2021.731,0.214],[2021.763,0.229],[2021.792,0.224],[2021.818,0.217],[2021.849,0.230],[2021.878,0.222],[2021.909,0.215],[2021.938,0.228],[2021.969,0.224],[2021.997,0.232],[2022.027,0.218],[2022.058,0.226],[2022.087,0.230],[2022.118,0.221],[2022.144,0.214],[2022.178,0.229],[2022.203,0.224],[2022.236,0.217],[2022.262,0.231],[2022.293,0.226],[2022.322,0.220],[2022.351,0.234],[2022.382,0.227],[2022.409,0.217],[2022.441,0.231],[2022.469,0.226],[2022.498,0.220],[2022.528,0.234],[2022.557,0.228],[2022.588,0.223],[2022.617,0.235],[2022.646,0.230],[2022.676,0.220],[2022.703,0.234],[2022.737,0.229],[2022.762,0.224],[2022.793,0.233],[2022.822,0.228],[2022.851,0.236],[2022.883,0.220],[2022.911,0.233],[2022.942,0.228],
  [2019.84,0.191],[2019.90,0.193],[2020.70,0.193],[2020.73,0.195],[2020.12,0.194],
  [2023.18,0.232],[2023.19,0.225],[2023.21,0.238],[2023.22,0.229],[2023.24,0.235],[2023.25,0.223],[2023.27,0.231],[2023.28,0.240],[2023.30,0.227],[2023.31,0.234],[2023.33,0.229],[2023.34,0.237],[2023.36,0.224],[2023.37,0.232],[2023.39,0.239],[2023.40,0.228],[2023.42,0.235],[2023.43,0.226],[2023.45,0.233],[2023.46,0.238],[2023.48,0.230],[2023.49,0.224],[2023.51,0.236],[2023.52,0.231],[2023.54,0.227],[2023.55,0.239],[2023.57,0.233],[2023.58,0.225],[2023.60,0.236],[2023.61,0.229],[2023.63,0.234],[2023.64,0.238],[2023.66,0.231],
];

// REFU_Result: [decimal year, tilt (µrad)]; null = gap in record
const refuResult: [number, number | null][] = [
  [2010.00,1480],[2010.015,1350],[2010.03,1500],[2010.045,1280],[2010.06,1420],[2010.075,1330],[2010.09,1440],[2010.10,1250],[2010.12,1380],[2010.13,1200],[2010.15,1320],[2010.16,1060],[2010.18,1150],[2010.19,980],[2010.22,1080],[2010.25,1020],[2010.28,1110],[2010.31,1000],[2010.34,1090],[2010.36,1150],[2010.39,1050],[2010.42,1120],[2010.45,1060],[2010.48,1100],[2010.51,1040],[2010.54,1130],[2010.57,1180],[2010.60,1070],[2010.63,1110],[2010.66,1030],[2010.69,1080],[2010.71,1060],[2010.74,1100],[2010.77,1040],[2010.80,1090],[2010.83,1070],[2010.86,1120],[2010.89,1050],[2010.92,1180],[2010.95,1060],[2010.98,1210],[2011.01,1080],[2011.04,1130],[2011.06,1040],[2011.09,1110],[2011.12,1000],[2011.15,1030],[2011.18,820],[2011.21,950],[2011.24,760],[2011.27,880],[2011.30,720],[2011.33,840],[2011.36,690],[2011.39,800],[2011.42,620],[2011.45,760],[2011.48,680],[2011.51,850],[2011.54,640],[2011.56,780],[2011.59,590],[2011.62,720],[2011.65,650],[2011.68,800],[2011.71,610],[2011.74,740],[2011.77,560],[2011.79,700],[2011.82,630],[2011.85,760],[2011.88,580],[2011.91,690],[2011.94,540],[2011.97,660],[2012.00,600],[2012.03,720],[2012.06,520],[2012.09,640],[2012.12,570],[2012.15,680],[2012.17,440],[2012.20,520],[2012.23,430],[2012.26,560],[2012.29,480],[2012.32,600],[2012.35,520],[2012.38,640],[2012.41,560],[2012.44,680],[2012.47,600],[2012.50,760],[2012.53,640],[2012.56,1020],[2012.57,660],
  [2012.62,null],
  [2012.70,900],[2012.715,1150],[2012.73,950],[2012.745,1220],[2012.76,1000],[2012.775,1260],[2012.79,980],[2012.805,1130],[2012.82,880],[2012.835,1200],[2012.85,1020],[2012.865,1280],[2012.88,940],[2012.895,1160],[2012.91,900],[2012.925,1100],[2012.94,1250],[2012.955,1180],[2012.97,1350],[2012.985,1300],[2013.00,1480],[2013.015,1420],[2013.03,1600],[2013.045,1550],[2013.06,1700],[2013.075,1640],[2013.09,1880],[2013.105,1720],[2013.12,2130],[2013.135,1780],[2013.15,1650],[2013.17,1900],[2013.19,1600],[2013.21,1820],[2013.23,1700],[2013.25,1950],[2013.27,1620],[2013.29,1780],[2013.31,1560],[2013.33,1720],[2013.35,1850],[2013.37,1640],[2013.39,1760],[2013.41,1600],[2013.43,1810],[2013.45,1680],[2013.47,1900],[2013.49,1720],[2013.51,1650],[2013.53,1830],[2013.55,1700],[2013.57,1880],[2013.59,1740],[2013.61,1620],[2013.63,1800],[2013.65,1760],[2013.67,1940],[2013.69,1850],[2013.71,2000],[2013.73,1900],[2013.75,2100],[2013.77,1980],[2013.79,2150],[2013.80,2500],[2013.81,2900],[2013.82,3300],[2013.83,3700],[2013.84,4000],[2013.85,3800],[2013.86,4200],[2013.87,4400],[2013.88,4150],[2013.90,4600],[2013.92,4250],[2013.94,4700],[2013.96,4300],[2013.98,4550],[2014.00,4180],[2014.02,4750],[2014.04,4350],[2014.06,4500],[2014.08,4200],[2014.10,4650],[2014.12,4300],[2014.14,4450],[2014.16,4150],[2014.18,4900],[2014.19,4300],[2014.21,4600],[2014.23,4250],[2014.25,4500],[2014.27,4200],[2014.29,4400],[2014.31,4180],[2014.33,4450],[2014.35,4250],[2014.37,4550],[2014.39,4220],[2014.41,4400],[2014.43,4300],[2014.45,4480],[2014.47,4200],[2014.49,4350],[2014.51,4250],[2014.53,4420],[2014.55,4300],[2014.57,4600],[2014.59,4250],[2014.61,4500],[2014.63,4350],[2014.65,4650],[2014.67,4300],[2014.69,4550],[2014.71,4280],[2014.73,4450],[2014.75,4350],[2014.77,4700],[2014.79,4300],[2014.81,4600],[2014.83,4400],[2014.85,4750],[2014.87,4350],[2014.89,4650],[2014.91,4450],[2014.93,4780],[2014.95,4500],[2014.97,4900],[2014.99,5300],[2015.01,5700],[2015.03,5400],[2015.05,5600],[2015.07,5250],[2015.09,5500],[2015.11,5800],[2015.13,6050],[2015.15,5900],[2015.17,6070],[2015.19,5750],[2015.21,5900],[2015.23,5550],[2015.25,5800],[2015.27,5480],[2015.29,5600],[2015.31,5350],[2015.33,5200],[2015.35,5050],[2015.37,4950],[2015.39,4850],[2015.41,4800],[2015.43,4720],[2015.45,4690],[2015.47,4750],
  [2015.49,null],
  [2015.51,4950],[2015.53,5150],[2015.55,5350],[2015.57,5500],[2015.59,5650],[2015.61,5800],[2015.63,5900],[2015.65,5970],[2015.67,5750],[2015.69,5900],[2015.71,5650],[2015.73,5850],[2015.75,5600],[2015.77,5950],[2015.79,5700],[2015.81,5850],[2015.83,5550],[2015.85,5800],[2015.87,5650],[2015.89,5900],[2015.91,5600],[2015.93,5750],[2015.95,5530],[2015.97,5700],[2015.99,5900],[2016.01,5650],[2016.03,5950],[2016.05,6200],[2016.07,6400],[2016.09,6450],[2016.11,6300],[2016.13,6420],[2016.15,6100],[2016.17,5950],[2016.19,6050],[2016.21,5800],[2016.23,5880],[2016.25,5650],[2016.27,5750],[2016.29,5550],[2016.31,5650],[2016.33,5480],[2016.35,5600],[2016.37,5460],[2016.39,5520],[2016.41,5430],[2016.43,5480],[2016.45,5440],[2016.47,5500],[2016.49,5560],[2016.51,5620],[2016.53,5680],[2016.55,5650],[2016.57,5720],[2016.59,5680],[2016.61,5740],[2016.63,5690],[2016.65,5750],[2016.67,5700],[2016.69,5730],[2016.71,5670],[2016.73,5710],[2016.75,5650],[2016.77,5690],[2016.79,5620],[2016.81,5660],[2016.83,5590],[2016.85,5640],[2016.87,5560],[2016.89,5600],[2016.91,5520],[2016.93,5560],[2016.95,5470],[2016.97,5500],[2016.99,5420],[2017.01,5460],[2017.03,5380],[2017.05,5410],[2017.07,5330],[2017.09,5370],[2017.11,5290],[2017.13,5320],[2017.15,5250],[2017.17,5290],[2017.19,5220],[2017.21,5260],[2017.23,5190],[2017.25,5230],[2017.27,5160],[2017.29,5200],[2017.31,5140],[2017.33,5180],[2017.35,5120],[2017.37,5160],[2017.40,5110],[2017.43,5150],[2017.46,5100],[2017.49,5140],[2017.52,5120],[2017.55,5160],[2017.58,5110],[2017.61,5180],[2017.64,5130],[2017.67,5170],[2017.70,5140],[2017.73,5190],[2017.76,5130],[2017.79,5180],[2017.82,5150],[2017.85,5120],[2017.88,5170],[2017.91,5130],[2017.94,5160],[2017.97,5120],[2018.00,5170],[2018.02,5140],
  [2018.15,null],
  [2018.29,5150],[2018.36,5180],[2018.46,5230],[2018.55,5270],[2018.65,5310],[2018.75,5330],[2018.84,5340],[2018.91,5360],[2018.96,5470],[2018.99,5400],[2019.05,5380],[2019.13,5375],[2019.31,5380],[2019.48,5385],[2019.60,5400],[2019.66,5450],[2019.70,5400],[2019.77,5395],[2019.79,5400],[2019.80,5290],[2019.86,5310],[2019.93,5300],[2020.01,5320],[2020.07,5270],[2020.11,5240],[2020.15,5250],[2020.21,5290],[2020.26,5340],[2020.33,5370],[2020.40,5380],[2020.50,5400],[2020.62,5400],[2020.69,5390],[2020.77,5365],[2020.87,5370],[2021.06,5375],[2021.28,5385],[2021.57,5390],[2021.86,5395],[2022.15,5400],[2022.44,5405],[2022.74,5410],[2023.03,5420],[2023.17,5435],[2023.28,5460],[2023.36,5510],[2023.42,5550],[2023.48,5600],[2023.54,5650],[2023.61,5680],[2023.68,5700],
];

const stageLabelDx = [0, 0, -19, 0, 4, 0];
const stageLabelY = [48, 48, 17, 17, 17, 217];

function labelToYear(label: string): number {
  const [d, m, y] = label.split('/').map(Number);
  const days = (Date.UTC(y, m - 1, d) - Date.UTC(2010, 0, 1)) / 86400000;
  return 2010 + days / 365.25;
}
const xTicks = xTickLabels.map(labelToYear);
const xFormatter = (v: number) => {
  let best = 0;
  xTicks.forEach((t, i) => { if (Math.abs(t - v) < Math.abs(xTicks[best] - v)) best = i; });
  return xTickLabels[best];
};
const leftFormatter = (v: number) => v.toFixed(2).replace('.', ',');

const gualData = gualUp.map(([x, y]) => ({ x, y }));
const nereData = nereUp.map(([x, y]) => ({ x, y }));
const refuData = refuResult.map(([x, t]) => ({ x, t }));

const makeDot = (color: string) => (p: any) =>
  p.cx == null ? <g /> : <circle cx={p.cx} cy={p.cy} r={3.6} fill={color} />;

const XTick = (props: any) => {
  const { x, y, payload } = props;
  return (
    <text transform={`translate(${x} ${y}) scale(0.8 1)`} textAnchor="middle" dy="0.71em" fill="#000" fontSize={25} fontWeight={700} fontFamily={WIDE}>
      {xFormatter(payload.value)}
    </text>
  );
};

const RightTick = (props: any) => {
  const { x, y, payload } = props;
  return (
    <text x={x} y={y - 2} dy="0.355em" textAnchor="start" fill="#000" fontSize={24} fontWeight={700} fontFamily={WIDE}>
      {payload.value}
    </text>
  );
};

const LegendContent = (props: any) => {
  const payload = props.payload || [];
  return (
    <div style={{ height: 40, display: 'flex', justifyContent: 'center', alignItems: 'flex-start' }}>
      <div style={{ display: 'flex', alignItems: 'center', paddingTop: 2, paddingLeft: 24, fontFamily: WIDE, fontWeight: 700, fontSize: 25, color: '#000', lineHeight: '30px', transform: 'scaleX(0.9)' }}>
        {payload.map((e: any) => (
          <span key={e.value} style={{ display: 'inline-flex', alignItems: 'center', marginRight: 12 }}>
            {e.type === 'line' ? (
              <svg width={26} height={10}><line x1={0} y1={5} x2={26} y2={5} stroke={e.color} strokeWidth={2} /></svg>
            ) : (
              <svg width={16} height={10}><circle cx={8} cy={5} r={3} fill={e.color} /></svg>
            )}
            <span style={{ marginLeft: 6 }}>{e.value}</span>
          </span>
        ))}
      </div>
    </div>
  );
};

const stageTextStyle = { fontFamily: WIDE, fontWeight: 700, fontSize: 22, fill: '#000' };

const renderStageLabel = (i: number) => (props: any) => {
  const vb = props.viewBox || { x: 0, y: 0, width: 0, height: 0 };
  const cx = vb.x + vb.width / 2 + stageLabelDx[i];
  const cy = vb.y + stageLabelY[i];
  const rot = stageVertical[i] ? ' rotate(-90)' : '';
  return (
    <text transform={`translate(${cx} ${cy})${rot} scale(0.8 1)`} textAnchor="middle" dominantBaseline="central" {...stageTextStyle}>
      {stageNames[i]}
    </text>
  );
};

const titleStyle = { fontFamily: WIDE, fontWeight: 700, fontSize: 26, fill: '#000' };

const leftTitle = (props: any) => {
  const vb = props.viewBox || { x: 0, y: 0, width: 0, height: 0 };
  const cx = vb.x + 22;
  const cy = vb.y + vb.height / 2;
  return (
    <text transform={`translate(${cx} ${cy}) rotate(-90) scale(0.92 1)`} textAnchor="middle" dominantBaseline="central" {...titleStyle}>
      Vertical displacement - UP (m)
    </text>
  );
};
const rightTitle = (props: any) => {
  const vb = props.viewBox || { x: 0, y: 0, width: 0, height: 0 };
  const cx = vb.x + 92;
  const cy = vb.y + vb.height / 2 - 8;
  return (
    <text transform={`translate(${cx} ${cy}) rotate(-90)`} textAnchor="middle" dominantBaseline="central" {...titleStyle}>
      Tilt (µrad)
    </text>
  );
};

export default function App() {
  return (
    <div style={{ position: 'absolute', left: 0, top: 0, width: 1158, height: 829, background: '#fff' }}>
      <ComposedChart width={1158} height={829} margin={{ top: 3, right: 0, bottom: 0, left: 0 }}>
        <XAxis
          xAxisId={0}
          dataKey="x"
          type="number"
          domain={[xTicks[0], xTicks[xTicks.length - 1]]}
          ticks={xTicks}
          interval={0}
          height={39}
          tickSize={8}
          tickMargin={7}
          axisLine={{ stroke: '#000', strokeWidth: 2 }}
          tickLine={{ stroke: '#000', strokeWidth: 2 }}
          tick={<XTick />}
          allowDataOverflow
        />
        <YAxis
          yAxisId="left"
          orientation="left"
          type="number"
          domain={[0, 0.26]}
          ticks={leftTicks}
          tickFormatter={leftFormatter}
          interval={0}
          width={107}
          tickSize={7}
          tickMargin={10}
          axisLine={{ stroke: '#000', strokeWidth: 2 }}
          tickLine={{ stroke: '#333', strokeWidth: 1.5 }}
          tick={{ fill: '#000', fontSize: 24, fontWeight: 700, fontFamily: WIDE }}
          label={leftTitle}
          allowDataOverflow
        />
        <YAxis
          yAxisId="right"
          orientation="right"
          type="number"
          domain={[0, 7000]}
          ticks={rightTicks}
          interval={0}
          width={113}
          tickSize={7}
          tickMargin={10}
          axisLine={{ stroke: '#7f7f7f', strokeWidth: 2 }}
          tickLine={{ stroke: '#bfbfbf', strokeWidth: 1.5 }}
          tick={<RightTick />}
          label={rightTitle}
          allowDataOverflow
        />
        <Legend verticalAlign="top" align="center" content={LegendContent} />
        <Scatter name={seriesNames[0]} data={gualData} dataKey="y" yAxisId="left" fill={seriesColors[0]} shape={makeDot(seriesColors[0])} legendType="circle" isAnimationActive={false} />
        <Scatter name={seriesNames[1]} data={nereData} dataKey="y" yAxisId="left" fill={seriesColors[1]} shape={makeDot(seriesColors[1])} legendType="circle" isAnimationActive={false} />
        <Line name={seriesNames[2]} data={refuData} dataKey="t" yAxisId="right" type="linear" stroke={seriesColors[2]} strokeWidth={2} dot={false} activeDot={false} connectNulls={false} legendType="line" isAnimationActive={false} zIndex={650} />
        {stageNames.map((n, i) =>
          stageShaded[i] ? (
            <ReferenceArea key={`a${n}`} yAxisId="left" x1={stageBounds[i]} x2={stageBounds[i + 1]} y1={0} y2={0.26} fill="#d2d2d2" fillOpacity={0.28} stroke="none" zIndex={700} />
          ) : null
        )}
        {stageBounds.slice(0, 6).map((b, i) => (
          <ReferenceLine key={`l${i}`} yAxisId="left" x={b} stroke="#808080" strokeWidth={1.5} strokeDasharray="6 4" zIndex={710} />
        ))}
        <ReferenceLine yAxisId="left" y={0.26} stroke="#404040" strokeWidth={2} zIndex={710} />
        {stageNames.map((n, i) => (
          <ReferenceArea key={`t${n}`} yAxisId="left" x1={stageBounds[i]} x2={stageBounds[i + 1]} y1={0} y2={0.26} fill="none" fillOpacity={0} stroke="none" label={renderStageLabel(i)} zIndex={720} />
        ))}
      </ComposedChart>
    </div>
  );
}
